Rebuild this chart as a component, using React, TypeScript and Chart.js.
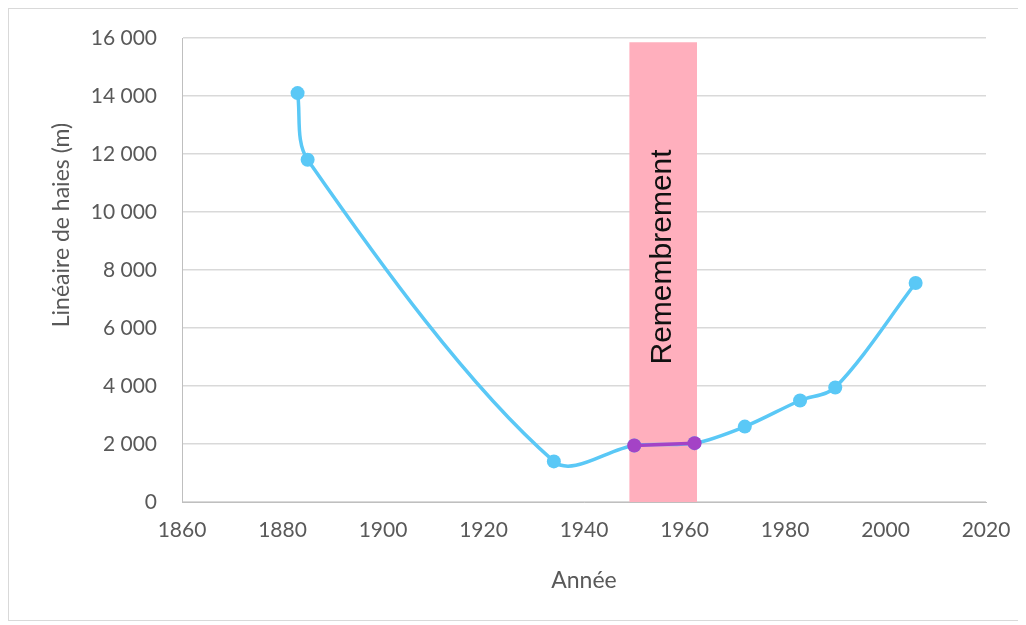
import React, { useEffect, useRef } from "react";
import { Chart, registerables } from "chart.js";

Chart.register(...registerables);

const years = [1883, 1885, 1934, 1950, 1962, 1972, 1983, 1990, 2006];
const hedgeLength = [14100, 11800, 1400, 1950, 2030, 2600, 3500, 3950, 7550];
const remYears = [1950, 1962];
const remLength = [1950, 2030];
const bandYears = [1949, 1962.5];
const bandTop = [15850, 15850];
const bandLabel = "Remembrement";
const xTitle = "Année";
const yTitle = "Linéaire de haies (m)";

const BLUE = "#5ac8f6";
const PURPLE = "#a443c6";
const PINK = "#ffafbd";
const TICK = "#595959";
const GRID = "#d9d9d9";

const fmt = (v: number) => String(v).replace(/\B(?=(\d{3})+(?!\d))/g, " ");

export default function App() {
  const ref = useRef<HTMLCanvasElement>(null);
  useEffect(() => {
    if (!ref.current) return;
    const textPlugin = {
      id: "texts",
      afterDatasetsDraw(chart: any) {
        const { ctx, scales } = chart;
        const x = scales.x.getPixelForValue((bandYears[0] + bandYears[1]) / 2);
        const y = scales.y.getPixelForValue(8450);
        ctx.save();
        ctx.translate(x, y);
        ctx.rotate(-Math.PI / 2);
        ctx.font = "30px 'Liberation Sans', Arial, sans-serif";
        ctx.fillStyle = "#111";
        ctx.textAlign = "center";
        ctx.textBaseline = "middle";
        ctx.fillText(bandLabel, 0, 0);
        ctx.restore();

        ctx.save();
        ctx.translate(53, 216);
        ctx.rotate(-Math.PI / 2);
        ctx.font = "23px Lato, sans-serif";
        ctx.fillStyle = TICK;
        ctx.textAlign = "center";
        ctx.textBaseline = "middle";
        ctx.fillText(yTitle, 0, 0);
        ctx.restore();
      },
    };
    const chart = new Chart(ref.current, {
      type: "line",
      data: {
        datasets: [
          {
            label: "rem",
            data: remYears.map((x, i) => ({ x, y: remLength[i] })),
            borderColor: PURPLE,
            backgroundColor: PURPLE,
            borderWidth: 3.5,
            pointRadius: 7,
            pointBackgroundColor: PURPLE,
            pointBorderWidth: 0,
            tension: 0,
          },
          {
            label: "haies",
            data: years.map((x, i) => ({ x, y: hedgeLength[i] })),
            borderColor: BLUE,
            backgroundColor: BLUE,
            borderWidth: 3.5,
            pointRadius: 7,
            pointBackgroundColor: BLUE,
            pointBorderWidth: 0,
            tension: 0.32,
          },
          {
            label: "band",
            data: bandYears.map((x, i) => ({ x, y: bandTop[i] })),
            borderWidth: 0,
            borderColor: "rgba(0,0,0,0)",
            backgroundColor: PINK,
            pointRadius: 0,
            fill: "origin",
            tension: 0,
          },
        ],
      },
      options: {
        animation: false,
        responsive: false,
        layout: { padding: { left: 0, right: 33, top: 29, bottom: 0 } },
        plugins: { legend: { display: false }, tooltip: { enabled: false } },
        scales: {
          x: {
            type: "linear",
            min: 1860,
            max: 2020,
            afterFit: (s: any) => {
              s.height = 118;
            },
            ticks: {
              stepSize: 20,
              color: TICK,
              padding: 0,
              font: { family: "Lato", size: 21 },
              callback: (v: any) => String(v),
              maxRotation: 0,
            },
            grid: { display: false, drawTicks: true, tickLength: 16, tickColor: "rgba(0,0,0,0)" },
            border: { display: true, color: "#bfbfbf", width: 1 },
            title: {
              display: true,
              text: xTitle,
              color: TICK,
              font: { family: "Lato", size: 23 },
              padding: { top: 0, bottom: 26 },
            },
          },
          y: {
            min: 0,
            max: 16000,
            afterFit: (s: any) => {
              s.width = 173;
            },
            ticks: {
              stepSize: 2000,
              color: TICK,
              padding: 0,
              font: { family: "Lato", size: 21 },
              callback: (v: any) => fmt(Number(v)),
            },
            grid: {
              color: GRID,
              lineWidth: 1.5,
              drawTicks: true,
              tickLength: 25,
              tickColor: "rgba(0,0,0,0)",
            },
            border: { display: true, color: "#bfbfbf", width: 1 },
          },
        },
      },
      plugins: [textPlugin],
    });
    return () => chart.destroy();
  }, []);
  return (
    <div
      style={{
        position: "relative",
        width: 1012,
        height: 613,
        border: "1px solid #d9d9d9",
        boxSizing: "border-box",
        background: "#fff",
      }}
    >
      <canvas ref={ref} width={1010} height={611} style={{ display: "block" }} />
    </div>
  );
}
